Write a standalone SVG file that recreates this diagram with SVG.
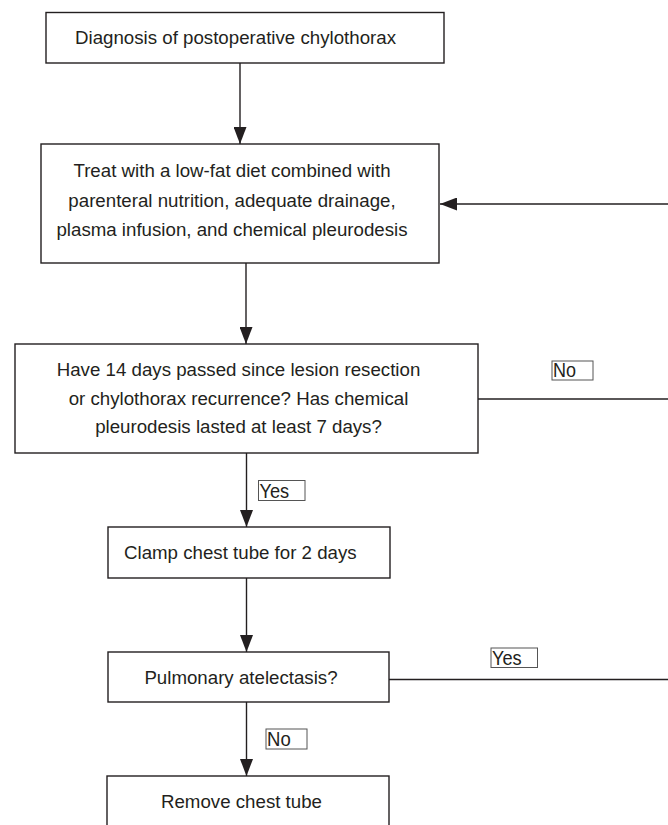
<svg xmlns="http://www.w3.org/2000/svg" width="668" height="825" viewBox="0 0 668 825">
<defs>
<marker id="ah" markerUnits="userSpaceOnUse" markerWidth="18" markerHeight="13" viewBox="0 0 18 13" refX="17" refY="6.5" orient="auto">
<path d="M0,0 L17,6.5 L0,13 Z" fill="#231f20"/>
</marker>
<style>
.box{fill:#fff;stroke:#231f20;stroke-width:1.4}
.lbl{fill:#fff;stroke:#555;stroke-width:1}
.t{font-family:"Liberation Sans",Arial,sans-serif;font-size:18.7px;fill:#231f20}
.lt{font-family:"Liberation Sans",Arial,sans-serif;font-size:19.5px;fill:#231f20}
.c{stroke:#231f20;stroke-width:1.4;fill:none}
.m{text-anchor:middle}
</style>
</defs>
<rect width="668" height="825" fill="#fff"/>
<g id="connectors">
<line class="c" x1="240" y1="63" x2="240" y2="144" marker-end="url(#ah)"/>
<line class="c" x1="246" y1="263" x2="246" y2="344" marker-end="url(#ah)"/>
<line class="c" x1="246.5" y1="453" x2="246.5" y2="527" marker-end="url(#ah)"/>
<line class="c" x1="246.5" y1="578" x2="246.5" y2="652" marker-end="url(#ah)"/>
<line class="c" x1="246.5" y1="702" x2="246.5" y2="776" marker-end="url(#ah)"/>
<line class="c" x1="668" y1="204" x2="440" y2="204" marker-end="url(#ah)"/>
<line class="c" x1="478" y1="399" x2="668" y2="399"/>
<line class="c" x1="389" y1="679.5" x2="668" y2="679.5"/>
<g id="label-no-1"><rect class="lbl" x="552" y="361" width="41" height="19"/><text class="lt" x="553" y="376.5" textLength="23" lengthAdjust="spacingAndGlyphs">No</text></g>
<g id="label-yes-1"><rect class="lbl" x="258.5" y="480.5" width="46.5" height="20"/><text class="lt" x="259.5" y="498" textLength="29.7" lengthAdjust="spacingAndGlyphs">Yes</text></g>
<g id="label-yes-2"><rect class="lbl" x="491" y="648" width="46.5" height="19.5"/><text class="lt" x="492" y="665" textLength="29.7" lengthAdjust="spacingAndGlyphs">Yes</text></g>
<g id="label-no-2"><rect class="lbl" x="266" y="729" width="41" height="20"/><text class="lt" x="267" y="745.5" textLength="23.7" lengthAdjust="spacingAndGlyphs">No</text></g>
</g>
<g id="n1"><rect class="box" x="46" y="12.5" width="398" height="50.5"/><text class="t" x="75" y="44">Diagnosis of postoperative chylothorax</text></g>
<g id="n2"><rect class="box" x="41" y="144" width="398" height="119"/>
<text class="t m" x="232" y="177">Treat with a low-fat diet combined with</text>
<text class="t m" x="232" y="207">parenteral nutrition, adequate drainage,</text>
<text class="t m" x="232" y="236">plasma infusion, and chemical pleurodesis</text></g>
<g id="n3"><rect class="box" x="15" y="344" width="463" height="109"/>
<text class="t m" x="238.5" y="376">Have 14 days passed since lesion resection</text>
<text class="t m" x="238.5" y="405">or chylothorax recurrence? Has chemical</text>
<text class="t m" x="238.5" y="433">pleurodesis lasted at least 7 days?</text></g>
<g id="n4"><rect class="box" x="108" y="527" width="282" height="51"/><text class="t" x="124" y="559">Clamp chest tube for 2 days</text></g>
<g id="n5"><rect class="box" x="108" y="652" width="281" height="50"/><text class="t m" x="241" y="684">Pulmonary atelectasis?</text></g>
<g id="n6"><rect class="box" x="107" y="776" width="282" height="60"/><text class="t m" x="241.5" y="808">Remove chest tube</text></g>
</svg>
